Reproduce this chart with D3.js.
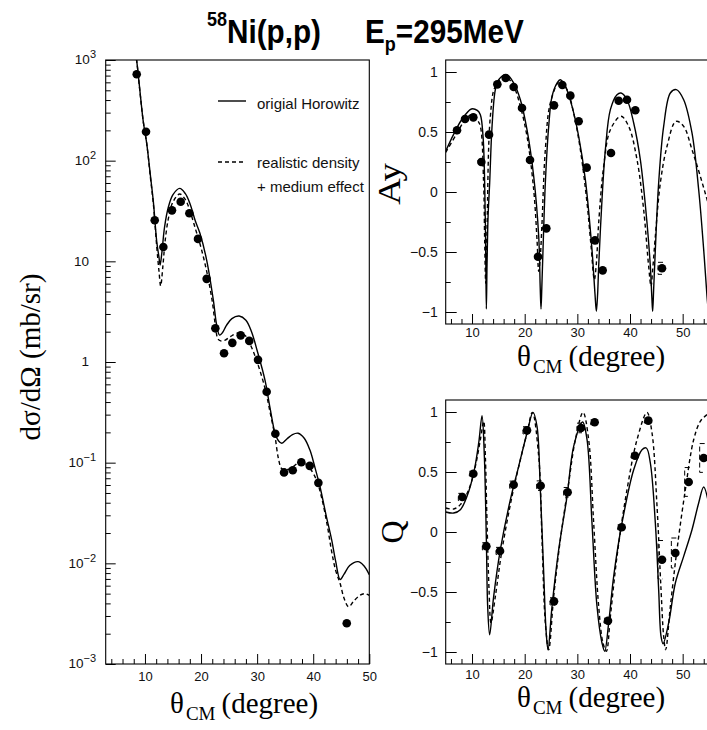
<!DOCTYPE html>
<html>
<head>
<meta charset="utf-8">
<script src="https://cdn.jsdelivr.net/npm/d3@7"></script>
<style>
  body { margin: 0; background: #fff; }
  svg { display: block; }
</style>
</head>
<body>
<svg id="chart" width="707" height="730"></svg>
<script>
// ---------- measured cross sections dσ/dΩ (mb/sr) ----------
const xsTheta = [8.53, 10.19, 11.74, 13.28, 14.82, 16.37, 17.92, 19.46, 21.0, 22.55,
                 24.1, 25.58, 27.07, 28.6, 30.16, 31.7, 33.25, 34.8, 36.35, 37.88,
                 39.38, 40.92, 45.98];
const xsValue = [721, 194, 25.6, 13.9, 32.1, 39.1, 30.0, 16.7, 6.7, 2.16,
                 1.22, 1.55, 1.84, 1.62, 1.05, 0.507, 0.194, 0.080, 0.084, 0.101,
                 0.093, 0.063, 0.00254];

// original Horowitz calculation
const xsHorTheta = [8.0, 8.5, 9.0, 9.7, 10.3, 11.0, 11.5, 12.1, 12.5, 12.7, 13.0, 13.5,
                    14.2, 15.0, 16.2, 17.2, 18.0, 19.0, 19.8, 21.0, 22.2, 22.8, 23.3,
                    23.8, 24.5, 25.5, 26.8, 28.0, 29.0, 30.0, 31.4, 32.3, 33.2, 33.8,
                    34.4, 35.3, 36.3, 37.3, 38.4, 39.4, 40.3, 41.2, 42.3, 43.3, 44.0,
                    44.8, 45.5, 46.5, 48.0, 49.0, 50.0];
const xsHorValue = [1400, 1000, 560, 244, 150, 69, 39, 15.7, 11.0, 9.2, 12, 22,
                    35, 46, 53, 47, 37.7, 25, 19, 10.3, 4.1, 2.3, 1.85,
                    1.95, 2.3, 2.7, 2.86, 2.6, 2.0, 1.3, 0.66, 0.35, 0.196, 0.165,
                    0.156, 0.172, 0.19, 0.196, 0.175, 0.134, 0.09, 0.058, 0.030, 0.017, 0.0105,
                    0.0069, 0.0078, 0.0095, 0.0104, 0.0095, 0.0077];

// realistic density + medium effect
const xsMedTheta = [8.0, 8.5, 9.0, 9.7, 10.3, 11.0, 11.5, 12.1, 12.5, 12.8, 13.2, 13.6,
                    14.2, 15.0, 16.2, 17.2, 18.0, 19.0, 19.8, 21.0, 22.0, 22.6, 23.0,
                    23.5, 24.3, 25.3, 26.8, 28.0, 29.0, 30.0, 31.4, 32.3, 33.2, 33.8,
                    34.4, 35.3, 36.5, 37.6, 38.6, 39.6, 40.6, 41.5, 42.5, 43.3, 44.0,
                    44.8, 45.5, 46.3, 47.2, 48.3, 49.2, 50.0];
const xsMedValue = [1400, 1000, 550, 244, 150, 66, 37, 14, 8, 5.7, 9, 16,
                    27, 39, 46.7, 41, 32, 21, 15, 8, 4, 2.2, 1.7,
                    1.62, 1.65, 1.8, 1.95, 1.8, 1.4, 1.0, 0.55, 0.32, 0.18, 0.11,
                    0.087, 0.085, 0.092, 0.102, 0.098, 0.085, 0.067, 0.045, 0.024, 0.013, 0.0085,
                    0.0063, 0.0045, 0.0037, 0.0042, 0.0048, 0.0050, 0.0048];

// ---------- analysing power Ay ----------
const ayTheta = [7.15, 8.67, 10.25, 11.77, 13.23, 14.81, 16.39, 17.91, 19.49, 21.01,
                 22.53, 24.11, 25.57, 27.15, 28.67, 30.25, 31.77, 33.35, 34.81, 36.39,
                 37.85, 39.43, 41.01, 46.08];
const ayValue = [0.514, 0.608, 0.622, 0.25, 0.478, 0.897, 0.95, 0.875, 0.70, 0.267,
                 -0.539, -0.303, 0.722, 0.892, 0.803, 0.589, 0.203, -0.403, -0.653, 0.325,
                 0.761, 0.769, 0.681, -0.636];
const ayError = [0.01, 0.01, 0.01, 0.01, 0.01, 0.01, 0.01, 0.01, 0.01, 0.01,
                 0.01, 0.01, 0.01, 0.01, 0.01, 0.01, 0.01, 0.01, 0.01, 0.01,
                 0.01, 0.01, 0.01, 0.05];

const ayHorTheta = [5.0, 6.5, 8.0, 9.87, 11.0, 11.58, 12.09, 12.4, 12.6, 12.72, 12.85,
                    13.05, 13.35, 13.8, 14.43, 15.06, 16.52, 17.91, 19.18, 20.44, 21.71,
                    22.66, 22.95, 23.1, 23.25, 23.48, 23.92, 24.56, 25.19, 26.14, 26.77,
                    27.72, 28.99, 30.25, 31.52, 32.78, 33.35, 33.61, 33.85, 34.05, 34.68,
                    35.32, 36.27, 37.53, 38.29, 39.43, 40.7, 41.96, 43.23, 43.86, 44.15,
                    44.3, 44.5, 44.81, 45.44, 46.39, 47.66, 48.8, 50.19, 51.77, 53.04,
                    53.99, 54.62, 55.0];
const ayHorValue = [0.34, 0.48, 0.6, 0.692, 0.68, 0.644, 0.464, 0.075, -0.5, -0.975, -0.6,
                    -0.2, 0.075, 0.547, 0.853, 0.936, 0.978, 0.908, 0.769, 0.519, 0.131,
                    -0.369, -0.8, -0.975, -0.8, -0.48, 0.075, 0.547, 0.797, 0.908, 0.936,
                    0.881, 0.714, 0.464, 0.103, -0.48, -0.85, -0.994, -0.85, -0.619, -0.064,
                    0.353, 0.686, 0.811, 0.825, 0.769, 0.575, 0.269, -0.258, -0.619, -0.88,
                    -0.994, -0.8, -0.48, 0.075, 0.547, 0.825, 0.853, 0.769, 0.492, 0.019,
                    -0.48, -0.869, -1.05];

const ayMedTheta = [5.0, 7.15, 8.5, 9.9, 11.0, 11.58, 12.2, 12.4, 12.6, 12.85, 13.48,
                    14.43, 16.33, 17.9, 19.18, 20.44, 21.71, 22.34, 22.66, 22.95, 23.29,
                    23.92, 24.87, 26.65, 28.04, 29.3, 30.57, 31.84, 32.6, 33.23, 33.6,
                    34.05, 35.0, 36.27, 38.29, 39.75, 41.33, 42.59, 43.54, 43.99, 44.3,
                    44.81, 45.76, 47.03, 48.73, 50.19, 51.77, 53.35, 55.0];
const ayMedValue = [0.33, 0.49, 0.59, 0.645, 0.6, 0.547, 0.075, -0.4, -0.76, -0.3, 0.63,
                    0.881, 0.964, 0.88, 0.714, 0.464, 0.019, -0.397, -0.661, -0.55, -0.258,
                    0.353, 0.742, 0.922, 0.853, 0.658, 0.353, -0.092, -0.45, -0.731, -0.6,
                    -0.258, 0.214, 0.519, 0.631, 0.547, 0.269, -0.147, -0.619, -0.786, -0.65,
                    -0.369, 0.075, 0.381, 0.589, 0.547, 0.353, 0.131, -0.12];

// ---------- spin rotation Q ----------
const qTheta = [8.16, 10.25, 12.72, 15.32, 17.91, 20.44, 23.04, 25.57, 28.16, 30.69,
                33.29, 35.82, 38.42, 40.95, 43.48, 46.08, 48.61, 51.14, 53.99];
const qValue = [0.292, 0.486, -0.119, -0.158, 0.394, 0.847, 0.386, -0.578, 0.331, 0.867,
                0.914, -0.739, 0.039, 0.636, 0.928, -0.231, -0.175, 0.417, 0.617];
const qError = [0.03, 0.02, 0.03, 0.03, 0.03, 0.03, 0.04, 0.03, 0.04, 0.04,
                0.02, 0.02, 0.02, 0.02, 0.02, 0.16, 0.125, 0.12, 0.12];

const qHorTheta = [5.0, 6.52, 7.78, 9.05, 10.32, 11.27, 11.9, 12.34, 12.72, 12.97, 13.35,
                   14.11, 15.38, 17.28, 18.86, 20.44, 21.58, 22.34, 22.97, 23.61, 24.05,
                   24.43, 25.19, 26.46, 28.04, 29.3, 31.0, 31.84, 32.78, 33.73, 34.68,
                   35.19, 35.95, 36.9, 38.48, 40.7, 42.28, 43.1, 43.86, 44.81, 45.44,
                   45.89, 46.27, 47.34, 48.61, 50.19, 51.77, 53.04, 53.99, 55.0];
const qHorValue = [0.167, 0.158, 0.186, 0.297, 0.492, 0.742, 0.969, 0.631, -0.064, -0.619, -0.856,
                   -0.536, -0.147, 0.269, 0.547, 0.825, 0.997, 0.881, 0.353, -0.342, -0.814,
                   -0.981, -0.619, -0.147, 0.297, 0.714, 0.917, 0.769, 0.075, -0.619, -0.925,
                   -0.994, -0.758, -0.369, 0.075, 0.519, 0.686, 0.70, 0.575, 0.075, -0.48,
                   -0.869, -0.931, -0.758, -0.425, -0.203, 0.019, 0.242, 0.375, 0.22];

const qMedTheta = [5.0, 6.52, 7.78, 9.37, 10.63, 11.58, 12.22, 12.53, 12.85, 13.23, 13.6,
                   14.43, 15.7, 17.59, 19.18, 20.44, 21.46, 22.66, 23.29, 23.92, 24.56,
                   25.51, 26.77, 28.35, 29.62, 31.08, 32.15, 33.1, 34.05, 34.87, 35.51,
                   36.27, 37.53, 39.43, 41.33, 43.23, 44.18, 45.13, 45.89, 46.39, 46.77,
                   47.66, 48.92, 50.51, 52.09, 53.35, 54.62, 55.0];
const qMedValue = [0.2, 0.192, 0.228, 0.353, 0.547, 0.769, 0.922, 0.631, 0.075, -0.48, -0.758,
                   -0.536, -0.147, 0.297, 0.603, 0.825, 0.997, 0.631, -0.064, -0.758, -0.981,
                   -0.536, -0.064, 0.408, 0.769, 0.997, 0.769, 0.075, -0.619, -0.925, -0.994,
                   -0.703, -0.203, 0.353, 0.769, 0.997, 0.825, 0.214, -0.48, -0.869, -0.981,
                   -0.619, -0.147, 0.353, 0.769, 0.922, 0.978, 0.99];

// ---------- axis ticks ----------
const thetaMajor = [10, 20, 30, 40, 50];
const decadeExponents = [3, 2, 1, 0, -1, -2, -3];
const polMajor = [-1, -0.5, 0, 0.5, 1];
const polMinor = [-0.75, -0.25, 0.25, 0.75];

// ---------- layout ----------
const svg = d3.select("#chart");
const SANS = "'Liberation Sans', Arial, Helvetica, sans-serif";
const SERIF = "'Liberation Serif', 'Times New Roman', serif";
const dashPattern = "4,3";

const panels = {
  xs: { x: d3.scaleLinear().domain([3, 50]).range([105.7, 369.3]),
        y: d3.scaleLog().domain([1e-3, 1e3]).range([664, 60]) },
  ay: { x: d3.scaleLinear().domain([5, 55]).range([445.7, 709]),
        y: d3.scaleLinear().domain([-1.1, 1.1]).range([324, 60]) },
  q:  { x: d3.scaleLinear().domain([5, 55]).range([445.7, 709]),
        y: d3.scaleLinear().domain([-1.1, 1.1]).range([664, 400]) }
};

function zip(a, b) { return a.map((v, i) => [v, b[i]]); }
const signed = d => (d < 0 ? "\u2212" : "") + String(Math.abs(d));

function clipFor(p, id) {
  const [x0, x1] = p.x.range(), [y1, y0] = p.y.range();
  svg.append("clipPath").attr("id", id)
    .append("rect").attr("x", x0).attr("y", y0).attr("width", x1 - x0).attr("height", y1 - y0);
}

function thetaMinor(domain) {
  const out = [];
  for (let t = Math.ceil(domain[0] / 2) * 2; t <= domain[1]; t += 2) if (t % 10 !== 0) out.push(t);
  return out;
}

function drawThetaAxis(p, labelOffset) {
  const y1 = p.y.range()[0];
  svg.append("g").attr("transform", `translate(0,${y1})`)
    .call(d3.axisBottom(p.x).tickValues(thetaMinor(p.x.domain())).tickSize(-5).tickFormat(""))
    .call(g => g.select(".domain").remove());
  const ax = svg.append("g").attr("transform", `translate(0,${y1})`)
    .call(d3.axisBottom(p.x).tickValues(thetaMajor).tickSize(-10).tickPadding(labelOffset).tickFormat(d3.format("d")))
    .call(g => g.select(".domain").remove());
  ax.selectAll("text").attr("font-family", SANS).attr("font-size", 13).attr("fill", "#111");
  svg.selectAll(".tick line").attr("stroke", "#000");
}

// θ_CM (degree)
function thetaTitle(x, y, size) {
  const t = svg.append("text").attr("x", x).attr("y", y)
    .attr("font-family", SERIF).attr("font-size", size).attr("fill", "#000");
  t.append("tspan").text("θ");
  t.append("tspan").attr("font-size", 19).attr("dx", 2).attr("dy", 7).text("CM");
  t.append("tspan").attr("font-size", size).attr("dx", 6).attr("dy", -7).text("(degree)");
}

function curve(p, clip, thetas, values, dashed) {
  const line = d3.line().x(d => p.x(d[0])).y(d => p.y(d[1])).curve(d3.curveCatmullRom.alpha(0.5));
  svg.append("path").attr("clip-path", `url(#${clip})`)
    .attr("d", line(zip(thetas, values)))
    .attr("fill", "none").attr("stroke", "#000").attr("stroke-width", 1.4)
    .attr("stroke-dasharray", dashed ? dashPattern : null);
}

function markers(p, clip, thetas, values, errors) {
  const g = svg.append("g").attr("clip-path", `url(#${clip})`);
  thetas.forEach((t, i) => {
    const cx = p.x(t), cy = p.y(values[i]);
    if (errors) {
      const ya = p.y(values[i] + errors[i]), yb = p.y(values[i] - errors[i]);
      g.append("path")
        .attr("d", `M${cx + 1},${ya} H${cx - 4} V${yb} H${cx + 1}`)
        .attr("fill", "none").attr("stroke", "#000").attr("stroke-width", 1)
        .attr("stroke-dasharray", "5,3");
    }
    g.append("circle").attr("cx", cx).attr("cy", cy).attr("r", 4.3).attr("fill", "#000");
  });
}

function box(p) {
  const [x0, x1] = p.x.range(), [y1, y0] = p.y.range();
  svg.append("rect").attr("x", x0).attr("y", y0).attr("width", x1 - x0).attr("height", y1 - y0)
    .attr("fill", "none").attr("stroke", "#000").attr("stroke-width", 1.1);
}

// ---------- title ----------
const titleG = svg.append("g").attr("transform", "translate(207,43) scale(0.9,1)")
  .attr("font-family", SANS).attr("font-weight", "bold").attr("fill", "#000");
const title = titleG.append("text").attr("x", 0).attr("y", 0).attr("font-size", 33);
title.append("tspan").attr("font-size", 20).attr("dy", -17).text("58");
title.append("tspan").attr("dy", 17).text("Ni(p,p)");
const title2 = titleG.append("text").attr("x", (365 - 207) / 0.9).attr("y", 0).attr("font-size", 33);
title2.append("tspan").text("E");
title2.append("tspan").attr("font-size", 20).attr("dy", 8).text("p");
title2.append("tspan").attr("dy", -8).text("=295MeV");

// ---------- cross section panel ----------
{
  const p = panels.xs;
  clipFor(p, "clipXs");
  const minor = [];
  for (let e = -3; e < 3; e++) for (let m = 2; m <= 9; m++) minor.push(m * Math.pow(10, e));
  svg.append("g").attr("transform", `translate(${p.x.range()[0]},0)`)
    .call(d3.axisLeft(p.y).tickValues(minor).tickSize(-5).tickFormat(""))
    .call(g => g.select(".domain").remove());
  svg.append("g").attr("transform", `translate(${p.x.range()[0]},0)`)
    .call(d3.axisLeft(p.y).tickValues(decadeExponents.map(e => Math.pow(10, e))).tickSize(-10).tickFormat(""))
    .call(g => g.select(".domain").remove());
  decadeExponents.forEach(e => {
    const y = p.y(Math.pow(10, e));
    if (e === 0 || e === 1) {
      svg.append("text").attr("x", 89).attr("y", y).attr("dy", "0.33em")
        .attr("text-anchor", "end").attr("font-family", SANS).attr("font-size", 13.5).attr("fill", "#111")
        .text(e === 0 ? "1" : "10");
    } else {
      const t = svg.append("text").attr("x", 96).attr("y", y).attr("dy", "0.33em")
        .attr("text-anchor", "end").attr("font-family", SANS).attr("font-size", 13.5).attr("fill", "#111");
      t.append("tspan").text("10");
      t.append("tspan").attr("font-size", 11).attr("dy", -6).text(signed(e));
    }
  });
  drawThetaAxis(p, 8);
  curve(p, "clipXs", xsHorTheta, xsHorValue, false);
  curve(p, "clipXs", xsMedTheta, xsMedValue, true);
  markers(p, "clipXs", xsTheta, xsValue, null);
  box(p);

  // legend
  svg.append("line").attr("x1", 218).attr("x2", 246).attr("y1", 101).attr("y2", 101)
    .attr("stroke", "#000").attr("stroke-width", 1.4);
  svg.append("text").attr("x", 257).attr("y", 109).attr("font-family", SANS).attr("font-size", 15)
    .attr("fill", "#111").text("origial Horowitz");
  svg.append("line").attr("x1", 218).attr("x2", 246).attr("y1", 162).attr("y2", 162)
    .attr("stroke", "#000").attr("stroke-width", 1.4).attr("stroke-dasharray", dashPattern);
  svg.append("text").attr("x", 257).attr("y", 168).attr("font-family", SANS).attr("font-size", 15)
    .attr("fill", "#111").text("realistic density");
  svg.append("text").attr("x", 257).attr("y", 192).attr("font-family", SANS).attr("font-size", 15)
    .attr("fill", "#111").text("+ medium effect");

  thetaTitle(170, 713, 29);
  svg.append("text").attr("transform", "translate(40,357) rotate(-90)")
    .attr("text-anchor", "middle").attr("font-family", SERIF).attr("font-size", 29).attr("fill", "#000")
    .text("dσ/dΩ (mb/sr)");
}

// ---------- polarisation panels ----------
function polPanel(p, clip, yLabel, labelX, labelY, stretch, thetaTitleY, tickPad, horT, horV, medT, medV, dT, dV, dE) {
  clipFor(p, clip);
  const x0 = p.x.range()[0];
  svg.append("g").attr("transform", `translate(${x0},0)`)
    .call(d3.axisLeft(p.y).tickValues(polMinor).tickSize(-5).tickFormat(""))
    .call(g => g.select(".domain").remove());
  const ax = svg.append("g").attr("transform", `translate(${x0},0)`)
    .call(d3.axisLeft(p.y).tickValues(polMajor).tickSize(-11).tickPadding(8).tickFormat(signed))
    .call(g => g.select(".domain").remove());
  ax.selectAll("text").attr("font-family", SANS).attr("font-size", 14).attr("fill", "#111");
  drawThetaAxis(p, tickPad);
  curve(p, clip, horT, horV, false);
  curve(p, clip, medT, medV, true);
  markers(p, clip, dT, dV, dE);
  box(p);
  thetaTitle(517, thetaTitleY, 29);
  svg.append("text").attr("transform", `translate(${labelX},${labelY}) rotate(-90) scale(${stretch},1)`)
    .attr("text-anchor", "middle").attr("font-family", SERIF).attr("font-size", 32).attr("fill", "#000")
    .text(yLabel);
}

polPanel(panels.ay, "clipAy", "Ay", 400, 184, 1.15, 366, 4, ayHorTheta, ayHorValue, ayMedTheta, ayMedValue, ayTheta, ayValue, ayError);
polPanel(panels.q, "clipQ", "Q", 403, 532, 1.0, 707, 6, qHorTheta, qHorValue, qMedTheta, qMedValue, qTheta, qValue, qError);
</script>
</body>
</html>
